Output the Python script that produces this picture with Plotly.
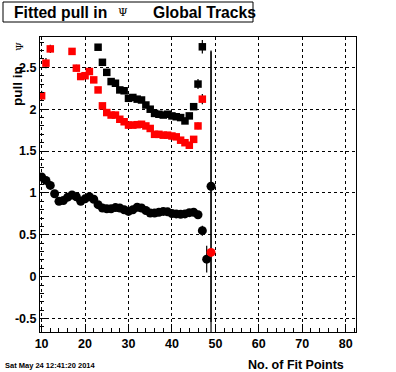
import plotly.graph_objects as go

# ---- data ----
red_sq_x = [10, 11, 12, 17, 18, 19, 20, 21, 22, 23, 24, 25, 26, 27, 28, 29, 30, 31, 32, 33,
            34, 35, 36, 37, 38, 39, 40, 41, 42, 43, 44, 45, 46, 47]
red_sq_y = [2.16, 2.55, 2.72, 2.69, 2.49, 2.39, 2.40, 2.45, 2.35, 2.23, 2.04, 1.96, 1.93, 1.93,
            1.88, 1.85, 1.81, 1.81, 1.815, 1.82, 1.80, 1.77, 1.70, 1.70, 1.69, 1.69, 1.68, 1.67,
            1.63, 1.60, 1.57, 1.64, 1.80, 2.12]
red_sq_e = [0.06, 0.06, 0.05, 0.04, 0.04, 0.03, 0.03, 0.03, 0.03, 0.03, 0.03, 0.03, 0.03, 0.03,
            0.03, 0.03, 0.03, 0.03, 0.03, 0.03, 0.03, 0.03, 0.03, 0.03, 0.03, 0.03, 0.03, 0.03,
            0.03, 0.03, 0.03, 0.03, 0.04, 0.06]

blk_sq_x = [23, 24, 25, 26, 27, 28, 29, 30, 31, 32, 33, 34, 35, 36, 37, 38, 39, 40, 41, 42,
            43, 44, 45, 46, 47]
blk_sq_y = [2.74, 2.56, 2.44, 2.33, 2.31, 2.23, 2.22, 2.13, 2.14, 2.12, 2.11, 2.05, 2.00, 1.95,
            1.94, 1.93, 1.94, 1.92, 1.91, 1.90, 1.86, 1.92, 2.03, 2.30, 2.745]
blk_sq_e = [0.03, 0.03, 0.03, 0.03, 0.03, 0.03, 0.03, 0.03, 0.03, 0.03, 0.03, 0.03, 0.03, 0.03,
            0.03, 0.03, 0.03, 0.03, 0.03, 0.03, 0.03, 0.03, 0.04, 0.06, 0.08]

blk_ci_x = list(range(10, 50))
blk_ci_y = [1.19, 1.15, 1.09, 0.99, 0.90, 0.91, 0.95, 0.975, 0.955, 0.90, 0.93, 0.955, 0.925,
            0.86, 0.82, 0.81, 0.81, 0.825, 0.82, 0.80, 0.78, 0.80, 0.83, 0.82, 0.79, 0.76, 0.76,
            0.77, 0.78, 0.775, 0.755, 0.75, 0.745, 0.75, 0.765, 0.77, 0.74, 0.55, 0.21, 1.08]
blk_ci_e = [0.02] * 37 + [0.06, 0.16, 1.62]

red_ci_x = [49]
red_ci_y = [0.29]
red_ci_e = [2.4]

x_ticks = [10, 20, 30, 40, 50, 60, 70, 80]
y_ticks = [-0.5, 0, 0.5, 1, 1.5, 2, 2.5]
y_tick_text = ["-0.5", "0", "0.5", "1", "1.5", "2", "2.5"]

# ---- layout helpers (pixel -> paper) ----
L, R, T, B = 40, 356, 37, 332
def px(x):
    return (x - L) / (R - L)
def py(y):
    return (B - y) / (B - T)

FONT = "Liberation Sans"

fig = go.Figure()

def add(xs, ys, es, sym, col, size):
    fig.add_trace(go.Scatter(
        x=xs, y=ys, mode="markers",
        marker=dict(symbol=sym, color=col, size=size, line=dict(width=0)),
        error_y=dict(type="data", array=es, visible=True, color="black",
                     thickness=1.2, width=0),
        showlegend=False, cliponaxis=True))

add(blk_ci_x, blk_ci_y, blk_ci_e, "circle", "black", 9)
add(red_ci_x, red_ci_y, red_ci_e, "circle", "#ff0000", 9)
add(blk_sq_x, blk_sq_y, blk_sq_e, "square", "black", 7.5)
add(red_sq_x, red_sq_y, red_sq_e, "square", "#ff0000", 7.5)

axis_common = dict(
    ticks="inside", ticklen=8, tickwidth=1, tickcolor="black",
    showgrid=True, gridcolor="black", gridwidth=1, griddash="dot",
    showline=True, linecolor="black", linewidth=1, mirror=True,
    zeroline=False,
    tickfont=dict(family=FONT, size=12.5, color="black", weight="bold"),
)

fig.update_xaxes(range=[9.63, 82.37], tickmode="array", tickvals=x_ticks,
                 ticktext=[str(v) for v in x_ticks],
                 minor=dict(ticks="inside", ticklen=4, dtick=2, tick0=10,
                            tickcolor="black", showgrid=False),
                 **axis_common)
fig.update_yaxes(range=[-0.66, 2.862], tickmode="array", tickvals=y_ticks,
                 ticktext=y_tick_text,
                 minor=dict(ticks="inside", ticklen=4, dtick=0.1, tick0=0,
                            tickcolor="black", showgrid=False),
                 **axis_common)

annotations = [
    dict(text="Fitted pull in", x=px(12), y=py(12), xanchor="left", yanchor="middle",
         font=dict(family=FONT, size=15.7, color="black", weight="bold")),
    dict(text="Ψ", x=px(116), y=py(12), xanchor="left", yanchor="middle",
         font=dict(family="DejaVu Serif", size=11, color="black")),
    dict(text="Global Tracks", x=px(151), y=py(12), xanchor="left", yanchor="middle",
         font=dict(family=FONT, size=15.7, color="black", weight="bold")),
    dict(text="pull in", x=px(17), y=py(86), xanchor="center", yanchor="middle",
         textangle=-90, font=dict(family=FONT, size=13.5, color="black", weight="bold")),
    dict(text="Ψ", x=px(19), y=py(47), xanchor="center", yanchor="middle",
         textangle=-90, font=dict(family="DejaVu Serif", size=10, color="black")),
    dict(text="No. of Fit Points", x=px(346), y=py(365), xanchor="right", yanchor="middle",
         font=dict(family=FONT, size=12.5, color="black", weight="bold")),
    dict(text="Sat May 24 12:41:20 2014", x=px(3), y=py(365), xanchor="left", yanchor="middle",
         font=dict(family=FONT, size=7.5, color="black", weight="bold")),
]
for a in annotations:
    a.update(xref="paper", yref="paper", showarrow=False)

fig.update_layout(
    width=396, height=372,
    margin=dict(l=L, r=396 - R, t=T, b=372 - B, pad=0),
    paper_bgcolor="white", plot_bgcolor="white",
    annotations=annotations,
    shapes=[dict(type="rect", xref="paper", yref="paper",
                 x0=px(3), x1=px(253), y0=py(2), y1=py(22),
                 line=dict(color="black", width=1), fillcolor="rgba(0,0,0,0)")],
)

fig.write_html("out.html", config={"displayModeBar": False},
               post_script="document.body.style.margin='0';document.body.style.padding='0';")
